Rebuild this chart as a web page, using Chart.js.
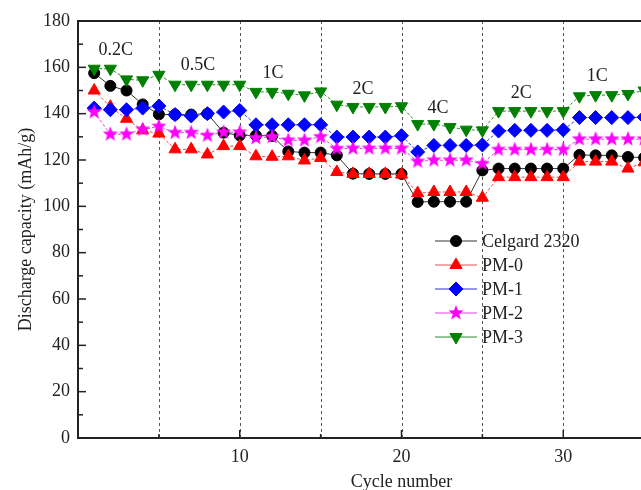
<!DOCTYPE html>
<html>
<head>
<meta charset="utf-8">
<script src="https://cdn.jsdelivr.net/npm/chart.js@4/dist/chart.umd.min.js"></script>
<style>
  html, body { margin: 0; padding: 0; background: #fff; overflow: hidden; }
  #wrap { width: 760px; height: 490px; }
</style>
</head>
<body>
<div id="wrap"><canvas id="myChart" width="760" height="490"></canvas></div>
<script>
// Ciklusszámok és kapacitások (mAh/g)
const cycles = [];
for (let i = 1; i <= 35; i++) cycles.push(i);

const celgard = [157.5, 152, 150, 144, 139.7, 139.6, 139.6, 140, 131.8, 130.6,
                 130.6, 130.4, 123.7, 123.2, 123.2, 122, 114.1, 114, 114, 114,
                 101.9, 102, 102, 102, 115.5, 116.3, 116.3, 116.3, 116.3, 116.3,
                 122.2, 122, 122, 121.3, 121];
const pm0 = [150, 143, 137.8, 132.8, 131.4, 124.6, 124.6, 122.4, 126, 126,
             121.6, 121.4, 121.6, 119.8, 120.9, 114.8, 114, 114, 114, 113.7,
             105.7, 106.2, 106.2, 106.2, 103.7, 112.6, 112.6, 112.6, 112.6, 112.6,
             119.3, 119.3, 119.3, 116.3, 119];
const pm1 = [142.4, 141.7, 141.7, 142.4, 143.3, 139.6, 139, 140, 140.7, 141.4,
             135.2, 135.2, 135.2, 135.2, 135.2, 129.9, 129.9, 129.9, 129.9, 130.5,
             123.5, 126.3, 126.3, 126.3, 126.5, 132.5, 132.8, 132.8, 132.8, 133,
             138.3, 138.3, 138.3, 138.3, 138.5];
const pm2 = [140.7, 131.1, 131.1, 133.2, 134.5, 131.8, 131.8, 130.6, 132, 132,
             129.5, 130, 128.5, 128.5, 130, 124.9, 125, 125, 125, 125,
             119.4, 119.9, 119.9, 119.9, 118.4, 124.5, 124.5, 124.5, 124.5, 124.5,
             129, 129, 129, 129, 129];
const pm3 = [159.4, 159.4, 154.8, 154.4, 156.8, 152.5, 152.5, 152.5, 152.5, 152.5,
             149.4, 149.4, 148.6, 147.9, 149.6, 143.9, 142.9, 142.9, 142.9, 143.2,
             135.5, 135.5, 134.2, 133.1, 132.8, 141.1, 141.1, 141.1, 141.1, 141.1,
             147.5, 148, 148, 148.5, 150];

// Szakaszhatárok (ciklus)
const stepBounds = [5, 10, 15, 20, 25, 30, 35];

// C-ráta feliratok (adat koordinátákban)
const rateText = ['0.2C', '0.5C', '1C', '2C', '4C', '2C', '1C'];
const rateX = [2.33, 7.42, 12.06, 17.62, 22.26, 27.4, 32.1];
const rateY = [167.3, 160.9, 157.5, 150.5, 142.3, 148.9, 156.1];

const FONT = "'Liberation Serif', 'DejaVu Serif', serif";

// Kitöltött csillag jelölő
function makeStar(color, r) {
    const c = document.createElement('canvas');
    c.width = c.height = r * 2 + 2;
    const g = c.getContext('2d');
    g.fillStyle = color;
    g.beginPath();
    for (let i = 0; i < 10; i++) {
        const rad = i % 2 === 0 ? r : r * 0.42;
        const a = -Math.PI / 2 + i * Math.PI / 5;
        const px = r + 1 + rad * Math.cos(a), py = r + 1 + rad * Math.sin(a);
        if (i === 0) g.moveTo(px, py); else g.lineTo(px, py);
    }
    g.closePath();
    g.fill();
    return c;
}
const starImg = makeStar('#ff00ff', 8);

function series(label, data, color, lineColor, style, radius, rotation, dash, order) {
    return {
        label: label,
        data: cycles.map((c, i) => ({ x: c, y: data[i] })),
        borderColor: lineColor,
        backgroundColor: color,
        pointBackgroundColor: color,
        pointBorderColor: color,
        pointStyle: style,
        pointRadius: radius,
        pointRotation: rotation,
        pointBorderWidth: 1,
        borderWidth: 1,
        borderDash: dash,
        tension: 0,
        order: order
    };
}

// Szaggatott függőleges vonalak a szakaszhatárokon
const bounds = {
    id: 'bounds',
    beforeDatasetsDraw(chart) {
        const ctx = chart.ctx;
        const a = chart.chartArea;
        const xs = chart.scales.x;
        ctx.save();
        ctx.strokeStyle = '#555';
        ctx.lineWidth = 1;
        ctx.setLineDash([3, 3]);
        stepBounds.forEach(v => {
            const x = Math.round(xs.getPixelForValue(v)) + 0.5;
            ctx.beginPath();
            ctx.moveTo(x, a.top); ctx.lineTo(x, a.bottom);
            ctx.stroke();
        });
        ctx.restore();
    }
};

// Keret, befelé álló osztások, feliratok, jelmagyarázat
const decor = {
    id: 'decor',
    afterDatasetsDraw(chart) {
        const ctx = chart.ctx;
        const a = chart.chartArea;
        const xs = chart.scales.x, ys = chart.scales.y;
        ctx.save();
        ctx.strokeStyle = '#222';
        ctx.lineWidth = 2;
        ctx.beginPath();
        ctx.moveTo(a.left, a.top); ctx.lineTo(a.right + 40, a.top);
        ctx.stroke();
        ctx.lineWidth = 1.5;
        for (let v = 0; v <= 180; v += 10) {
            const y = ys.getPixelForValue(v);
            ctx.beginPath();
            ctx.moveTo(a.left, y); ctx.lineTo(a.left + (v % 20 === 0 ? 8 : 5), y);
            ctx.stroke();
        }
        for (let v = 5; v < 40; v += 5) {
            const x = xs.getPixelForValue(v);
            ctx.beginPath();
            ctx.moveTo(x, a.bottom); ctx.lineTo(x, a.bottom - (v % 10 === 0 ? 8 : 4));
            ctx.stroke();
        }
        ctx.fillStyle = '#222';
        ctx.font = '18px ' + FONT;
        ctx.textAlign = 'center';
        ctx.textBaseline = 'middle';
        rateText.forEach((t, i) => {
            ctx.fillText(t, xs.getPixelForValue(rateX[i]), ys.getPixelForValue(rateY[i]));
        });
        // jelmagyarázat
        const lx = 435, ly = 241, step = 24;
        chart.data.datasets.forEach((ds, i) => {
            const y = ly + i * step;
            ctx.strokeStyle = ds.borderColor;
            ctx.lineWidth = 1;
            ctx.setLineDash([]);
            ctx.beginPath();
            ctx.moveTo(lx, y); ctx.lineTo(lx + 42, y);
            ctx.stroke();
            ctx.fillStyle = ds.pointBackgroundColor;
            ctx.strokeStyle = ds.pointBorderColor;
            Chart.helpers.drawPoint(ctx, {
                pointStyle: ds.pointStyle, rotation: ds.pointRotation,
                radius: ds.pointRadius, borderWidth: 1
            }, lx + 21, y);
            ctx.fillStyle = '#222';
            ctx.textAlign = 'left';
            ctx.fillText(ds.label, lx + 47, y + 1);
        });
        ctx.restore();
    }
};

const ctx = document.getElementById('myChart').getContext('2d');
const myChart = new Chart(ctx, {
    type: 'line',
    data: {
        datasets: [
            series('Celgard 2320', celgard, '#000000', '#333333', 'circle', 5.5, 0, [], 5),
            series('PM-0', pm0, '#ff0000', '#e05050', 'triangle', 7, 0, [3, 2], 4),
            series('PM-1', pm1, '#0000ff', '#3030e0', 'rectRot', 7, 0, [3, 2], 3),
            series('PM-2', pm2, '#ff00ff', '#e040e0', starImg, 8, 0, [3, 2], 2),
            series('PM-3', pm3, '#008000', '#2a8a2a', 'triangle', 7, 180, [3, 2], 1)
        ]
    },
    options: {
        responsive: false,
        animation: false,
        devicePixelRatio: 1,
        layout: { padding: { top: 21, right: 35, bottom: 0, left: 0 } },
        plugins: {
            legend: { display: false },
            tooltip: { enabled: false }
        },
        scales: {
            x: {
                type: 'linear',
                min: 0,
                max: 40,
                afterFit: s => { s.height = 52; },
                ticks: {
                    stepSize: 5,
                    color: '#222',
                    padding: 8,
                    maxRotation: 0,
                    font: { family: FONT, size: 18 },
                    callback: v => (v > 0 && v % 10 === 0) ? v : ''
                },
                grid: { display: false, drawTicks: false },
                border: { display: true, color: '#222', width: 2 },
                title: {
                    display: true,
                    text: 'Cycle number',
                    color: '#222',
                    font: { family: FONT, size: 18 },
                    padding: { top: 8, bottom: -3 }
                }
            },
            y: {
                min: 0,
                max: 180,
                afterFit: s => { s.width = 78; },
                ticks: {
                    stepSize: 20,
                    color: '#222',
                    padding: 8,
                    font: { family: FONT, size: 18 }
                },
                grid: { display: false, drawTicks: false },
                border: { display: true, color: '#222', width: 2 },
                title: {
                    display: true,
                    text: 'Discharge capacity (mAh/g)',
                    color: '#222',
                    font: { family: FONT, size: 18 },
                    padding: { top: 15, bottom: 4 }
                }
            }
        }
    },
    plugins: [bounds, decor]
});
</script>
</body>
</html>
